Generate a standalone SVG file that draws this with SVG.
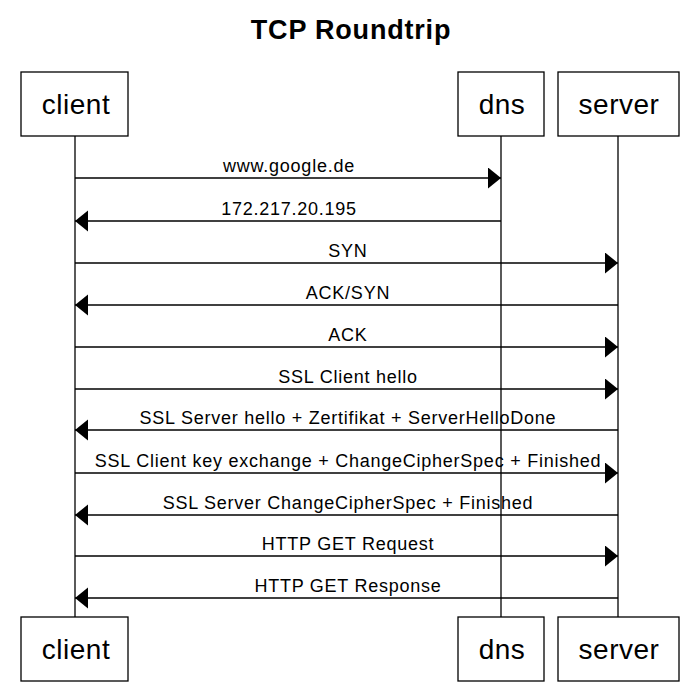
<svg xmlns="http://www.w3.org/2000/svg" width="700" height="697" viewBox="0 0 700 697">
<style>
.box{fill:#fff;stroke:#000;stroke-width:1.3}
.nl{font-family:"Liberation Sans",Arial,sans-serif;font-size:28px;letter-spacing:0.5px;text-anchor:middle;dominant-baseline:central}
.ml{font-family:"Liberation Sans",Arial,sans-serif;font-size:18px;letter-spacing:0.75px;text-anchor:middle}
.life{stroke:#000;stroke-width:1.3}
.msg{stroke:#000;stroke-width:1.3;fill:none}
</style>
<defs>
<marker id="ah" markerWidth="14" markerHeight="22" refX="13" refY="10.5" orient="auto" markerUnits="userSpaceOnUse">
<path d="M0,0 L13,10.5 L0,21 Z" fill="#000"/>
</marker>
</defs>
<rect width="700" height="697" fill="#fff"/>
<text x="351" y="39" font-family="Liberation Sans,Arial,sans-serif" font-size="27" letter-spacing="0.8" font-weight="bold" text-anchor="middle">TCP Roundtrip</text>
<g id="lifelines">
<line class="life" x1="75" y1="136" x2="75" y2="617"/>
<line class="life" x1="501" y1="136" x2="501" y2="617"/>
<line class="life" x1="618" y1="136" x2="618" y2="617"/>
</g>
<g id="client-top"><rect class="box" x="21" y="72" width="107" height="64"/><text class="nl" x="76" y="104">client</text></g>
<g id="dns-top"><rect class="box" x="458" y="72" width="86" height="64"/><text class="nl" x="502" y="104">dns</text></g>
<g id="server-top"><rect class="box" x="558" y="72" width="121" height="64"/><text class="nl" x="619" y="104">server</text></g>
<g id="client-bottom"><rect class="box" x="21" y="617" width="107" height="64"/><text class="nl" x="76" y="649">client</text></g>
<g id="dns-bottom"><rect class="box" x="458" y="617" width="86" height="64"/><text class="nl" x="502" y="649">dns</text></g>
<g id="server-bottom"><rect class="box" x="558" y="617" width="121" height="64"/><text class="nl" x="619" y="649">server</text></g>
<g id="connectors">
<line class="msg" x1="75" y1="178" x2="501" y2="178" marker-end="url(#ah)"/>
<text class="ml" x="289" y="172">www.google.de</text>
<line class="msg" x1="501" y1="221" x2="75" y2="221" marker-end="url(#ah)"/>
<text class="ml" x="289" y="215">172.217.20.195</text>
<line class="msg" x1="75" y1="263" x2="618" y2="263" marker-end="url(#ah)"/>
<text class="ml" x="348" y="257">SYN</text>
<line class="msg" x1="618" y1="305" x2="75" y2="305" marker-end="url(#ah)"/>
<text class="ml" x="348" y="299">ACK/SYN</text>
<line class="msg" x1="75" y1="347" x2="618" y2="347" marker-end="url(#ah)"/>
<text class="ml" x="348" y="341">ACK</text>
<line class="msg" x1="75" y1="389" x2="618" y2="389" marker-end="url(#ah)"/>
<text class="ml" x="348" y="383">SSL Client hello</text>
<line class="msg" x1="618" y1="430" x2="75" y2="430" marker-end="url(#ah)"/>
<text class="ml" x="348" y="424">SSL Server hello + Zertifikat + ServerHelloDone</text>
<line class="msg" x1="75" y1="473" x2="618" y2="473" marker-end="url(#ah)"/>
<text class="ml" x="348" y="467">SSL Client key exchange + ChangeCipherSpec + Finished</text>
<line class="msg" x1="618" y1="515" x2="75" y2="515" marker-end="url(#ah)"/>
<text class="ml" x="348" y="509">SSL Server ChangeCipherSpec + Finished</text>
<line class="msg" x1="75" y1="556" x2="618" y2="556" marker-end="url(#ah)"/>
<text class="ml" x="348" y="550">HTTP GET Request</text>
<line class="msg" x1="618" y1="598" x2="75" y2="598" marker-end="url(#ah)"/>
<text class="ml" x="348" y="592">HTTP GET Response</text>
</g>
</svg>
